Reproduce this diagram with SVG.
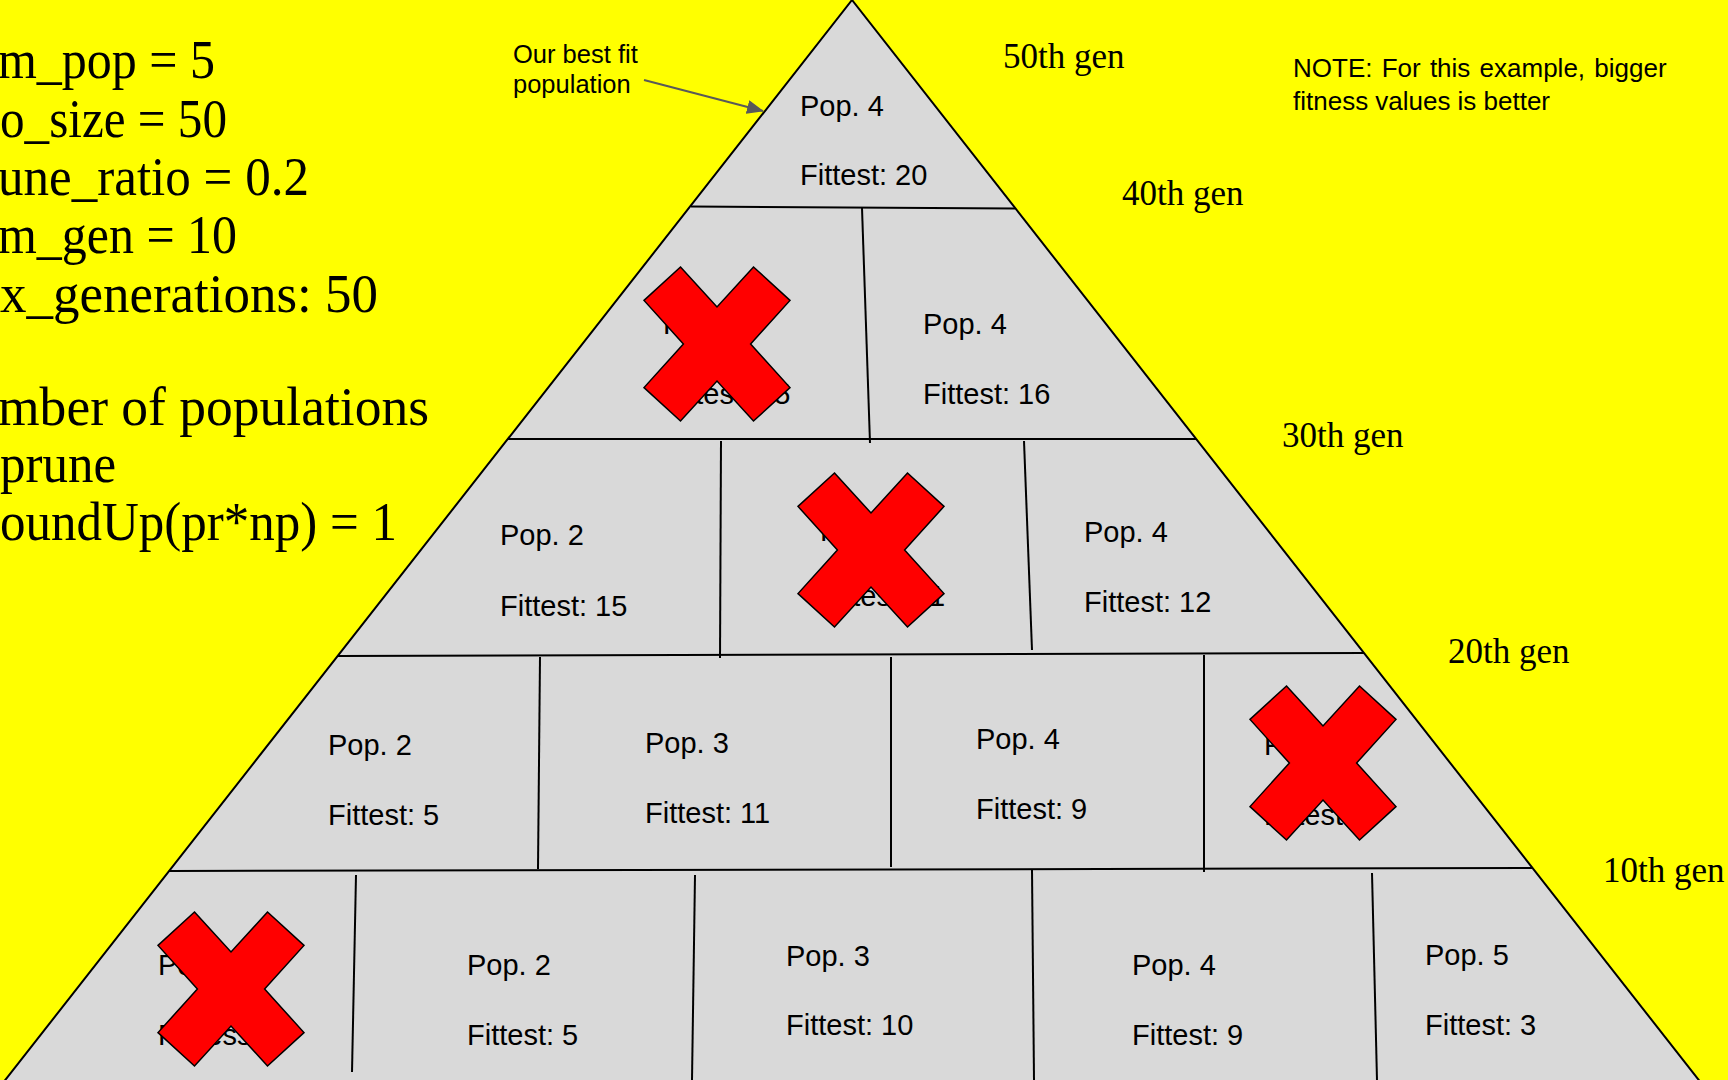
<svg xmlns="http://www.w3.org/2000/svg" width="1728" height="1080" viewBox="0 0 1728 1080">
  <style>
    .big { font-family: "Liberation Serif", "Times New Roman", serif; font-size: 54px; fill: #000; }
    .gen { font-family: "Liberation Serif", "Times New Roman", serif; font-size: 35px; fill: #000; }
    .sans { font-family: "Liberation Sans", Arial, sans-serif; fill: #000; }
    .cell text { font-family: "Liberation Sans", Arial, sans-serif; font-size: 29px; fill: #000; }
    .div { stroke: #000; stroke-width: 2; fill: none; }
    .xmark { fill: #ff0000; stroke: #000; stroke-width: 1.5; stroke-linejoin: miter; }
  </style>
  <defs>
    <marker id="arrow" markerUnits="userSpaceOnUse" markerWidth="17" markerHeight="14" refX="16" refY="7" orient="auto">
      <path d="M0,0 L17,7 L0,14 z" fill="#595959"/>
    </marker>
  </defs>

  <rect x="0" y="0" width="1728" height="1080" fill="#ffff00"/>

  <!-- parameter text -->
  <g id="params">
    <text class="big" x="-2" y="78" textLength="217" lengthAdjust="spacingAndGlyphs">m_pop = 5</text>
    <text class="big" x="0" y="137" textLength="227" lengthAdjust="spacingAndGlyphs">o_size = 50</text>
    <text class="big" x="-2" y="195" textLength="311" lengthAdjust="spacingAndGlyphs">une_ratio = 0.2</text>
    <text class="big" x="-2" y="253" textLength="239" lengthAdjust="spacingAndGlyphs">m_gen = 10</text>
    <text class="big" x="0" y="312" textLength="378" lengthAdjust="spacingAndGlyphs">x_generations: 50</text>
    <text class="big" x="-2" y="425" textLength="431" lengthAdjust="spacingAndGlyphs">mber of populations</text>
    <text class="big" x="0" y="482" textLength="116" lengthAdjust="spacingAndGlyphs">prune</text>
    <text class="big" x="0" y="540" textLength="397" lengthAdjust="spacingAndGlyphs">oundUp(pr*np) = 1</text>
  </g>

  <!-- note -->
  <g id="note">
    <text class="sans" x="1293" y="77" font-size="26" word-spacing="2">NOTE: For this example, bigger</text>
    <text class="sans" x="1293" y="110" font-size="26"><tspan>fitness values</tspan><tspan dx="7">is better</tspan></text>
  </g>

  <!-- generation labels -->
  <g id="gen-labels">
    <text class="gen" x="1003" y="68">50th gen</text>
    <text class="gen" x="1122" y="205">40th gen</text>
    <text class="gen" x="1282" y="447">30th gen</text>
    <text class="gen" x="1448" y="663">20th gen</text>
    <text class="gen" x="1603" y="882">10th gen</text>
  </g>

  <!-- pyramid -->
  <g id="pyramid">
    <polygon points="852,0 -2.6,1090 1706.6,1090" fill="#d9d9d9" stroke="#000" stroke-width="2"/>
    <line class="div" x1="691" y1="206.5" x2="1015" y2="208.5"/>
    <line class="div" x1="508" y1="439" x2="1196" y2="439"/>
    <line class="div" x1="338" y1="656" x2="1364" y2="653"/>
    <line class="div" x1="169" y1="871" x2="1533" y2="868"/>
    <line class="div" x1="862" y1="208" x2="870" y2="443"/>
    <line class="div" x1="721" y1="441" x2="720" y2="658"/>
    <line class="div" x1="1024" y1="441" x2="1032" y2="650"/>
    <line class="div" x1="540" y1="657" x2="538" y2="869"/>
    <line class="div" x1="891" y1="657" x2="891" y2="867"/>
    <line class="div" x1="1204" y1="655" x2="1204" y2="872"/>
    <line class="div" x1="356" y1="875" x2="352" y2="1072"/>
    <line class="div" x1="695" y1="875" x2="692" y2="1080"/>
    <line class="div" x1="1032" y1="870" x2="1034" y2="1080"/>
    <line class="div" x1="1372" y1="873" x2="1377" y2="1080"/>
  </g>

  <!-- 50th gen -->
  <g id="g50-pop4" class="cell">
    <text x="800" y="116">Pop. 4</text>
    <text x="800" y="185">Fittest: 20</text>
  </g>

  <!-- 40th gen -->
  <g id="g40-pop2" class="cell">
    <text x="663" y="334">Pop. 2</text>
    <text x="663" y="404">Fittest: 15</text>
    <polygon class="xmark" points="680.5,267 717,307 753.5,267 790,300.4 750.6,344 790,387.6 753.5,421 717,381 680.5,421 644,387.6 683.4,344 644,300.4"/>
  </g>
  <g id="g40-pop4" class="cell">
    <text x="923" y="334">Pop. 4</text>
    <text x="923" y="404">Fittest: 16</text>
  </g>

  <!-- 30th gen -->
  <g id="g30-pop2" class="cell">
    <text x="500" y="545">Pop. 2</text>
    <text x="500" y="616">Fittest: 15</text>
  </g>
  <g id="g30-pop3" class="cell">
    <text x="820" y="541">Pop. 3</text>
    <text x="820" y="606">Fittest: 11</text>
    <polygon class="xmark" points="834.5,473 871,513 907.5,473 944,506.4 904.6,550 944,593.6 907.5,627 871,587 834.5,627 798,593.6 837.4,550 798,506.4"/>
  </g>
  <g id="g30-pop4" class="cell">
    <text x="1084" y="542">Pop. 4</text>
    <text x="1084" y="612">Fittest: 12</text>
  </g>

  <!-- 20th gen -->
  <g id="g20-pop2" class="cell">
    <text x="328" y="755">Pop. 2</text>
    <text x="328" y="825">Fittest: 5</text>
  </g>
  <g id="g20-pop3" class="cell">
    <text x="645" y="753">Pop. 3</text>
    <text x="645" y="823">Fittest: 11</text>
  </g>
  <g id="g20-pop4" class="cell">
    <text x="976" y="749">Pop. 4</text>
    <text x="976" y="819">Fittest: 9</text>
  </g>
  <g id="g20-pop5" class="cell">
    <text x="1264" y="755">Pop. 5</text>
    <text x="1264" y="825">Fittest: 3</text>
    <polygon class="xmark" points="1286.5,686 1323,726 1359.5,686 1396,719.4 1356.6,763 1396,806.6 1359.5,840 1323,800 1286.5,840 1250,806.6 1289.4,763 1250,719.4"/>
  </g>

  <!-- 10th gen -->
  <g id="g10-pop1" class="cell">
    <text x="158" y="975">Pop. 1</text>
    <text x="158" y="1045">Fitness: 1</text>
    <polygon class="xmark" points="194.5,912 231,952 267.5,912 304,945.4 264.6,989 304,1032.6 267.5,1066 231,1026 194.5,1066 158,1032.6 197.4,989 158,945.4"/>
  </g>
  <g id="g10-pop2" class="cell">
    <text x="467" y="975">Pop. 2</text>
    <text x="467" y="1045">Fittest: 5</text>
  </g>
  <g id="g10-pop3" class="cell">
    <text x="786" y="966">Pop. 3</text>
    <text x="786" y="1035">Fittest: 10</text>
  </g>
  <g id="g10-pop4" class="cell">
    <text x="1132" y="975">Pop. 4</text>
    <text x="1132" y="1045">Fittest: 9</text>
  </g>
  <g id="g10-pop5" class="cell">
    <text x="1425" y="965">Pop. 5</text>
    <text x="1425" y="1035">Fittest: 3</text>
  </g>

  <!-- annotation -->
  <g id="best-fit-label">
    <text class="sans" x="513" y="63" font-size="25.5">Our best fit</text>
    <text class="sans" x="513" y="93" font-size="25.5">population</text>
  </g>
  <g id="connectors">
    <line x1="644" y1="80" x2="763" y2="111" stroke="#595959" stroke-width="2" marker-end="url(#arrow)"/>
  </g>
</svg>
